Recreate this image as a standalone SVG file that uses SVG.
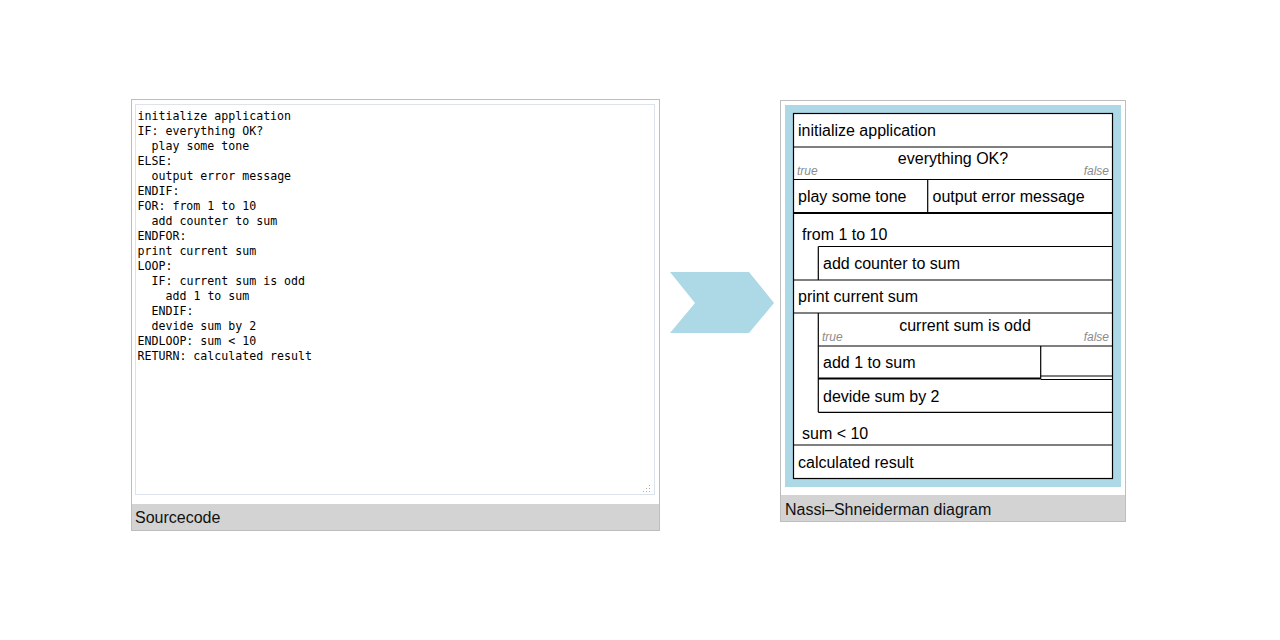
<svg xmlns="http://www.w3.org/2000/svg" width="1280" height="640" viewBox="0 0 1280 640">
<style>
.dot{fill:none;stroke:#7a7a7a;stroke-width:1;stroke-dasharray:1,1}
.bar{fill:#d3d3d3}
.cap{font-family:"Liberation Sans",Arial,sans-serif;font-size:16px;fill:#111}
.code{font-family:"DejaVu Sans Mono","Liberation Mono",monospace;font-size:11.6px;fill:#000}
.t{font-family:"Liberation Sans",Arial,sans-serif;font-size:16px;fill:#000}
.tc{font-family:"Liberation Sans",Arial,sans-serif;font-size:16px;fill:#000;text-anchor:middle}
.lbl{font-family:"Liberation Sans",Arial,sans-serif;font-size:12px;font-style:italic;fill:#8c8c8c}
.box{fill:#fff;stroke:#000;stroke-width:1.2}
.ln{stroke:#000;stroke-width:1.2;fill:none}
.thick{stroke:#000;stroke-width:2.2;fill:none}
</style>
<rect width="1280" height="640" fill="#fff"/>
<g id="sourcecode">
<rect class="dot" x="131.5" y="99.5" width="528" height="431"/>
<rect x="135.5" y="104.5" width="519" height="390" fill="#fff" stroke="#dde3ea" stroke-width="1"/>
<g fill="#b0b0b0">
<rect x="649" y="485" width="1" height="1"/><rect x="649" y="488" width="1" height="1"/><rect x="646" y="488" width="1" height="1"/>
<rect x="649" y="491" width="1" height="1"/><rect x="646" y="491" width="1" height="1"/><rect x="643" y="491" width="1" height="1"/>
</g>
<rect class="bar" x="132" y="504" width="527" height="26"/>
<text class="cap" x="135" y="523">Sourcecode</text>
<text class="code" x="137.5" y="120">initialize application</text>
<text class="code" x="137.5" y="135">IF: everything OK?</text>
<text class="code" x="151.5" y="150">play some tone</text>
<text class="code" x="137.5" y="165">ELSE:</text>
<text class="code" x="151.5" y="180">output error message</text>
<text class="code" x="137.5" y="195">ENDIF:</text>
<text class="code" x="137.5" y="210">FOR: from 1 to 10</text>
<text class="code" x="151.5" y="225">add counter to sum</text>
<text class="code" x="137.5" y="240">ENDFOR:</text>
<text class="code" x="137.5" y="255">print current sum</text>
<text class="code" x="137.5" y="270">LOOP:</text>
<text class="code" x="151.5" y="285">IF: current sum is odd</text>
<text class="code" x="165.5" y="300">add 1 to sum</text>
<text class="code" x="151.5" y="315">ENDIF:</text>
<text class="code" x="151.5" y="330">devide sum by 2</text>
<text class="code" x="137.5" y="345">ENDLOOP: sum &lt; 10</text>
<text class="code" x="137.5" y="360">RETURN: calculated result</text>
</g>
<g id="connectors">
<polygon points="670,272 749,272 774,303 749,333 670,333 695,303" fill="#add8e6"/>
</g>
<g id="nassi-shneiderman">
<rect class="dot" x="780.5" y="100.5" width="345" height="421"/>
<rect x="785" y="105" width="336" height="382" fill="#add8e6"/>
<rect class="bar" x="781" y="495" width="344" height="26"/>
<text class="cap" x="785" y="515">Nassi–Shneiderman diagram</text>
<rect class="box" x="793.5" y="113.5" width="319" height="365"/>
</g>
<g id="n-init">
<line class="ln" x1="793.5" y1="147" x2="1112.5" y2="147"/>
<text class="t" x="798" y="135.5">initialize application</text>
</g>
<g id="n-if1">
<text class="tc" x="953" y="164">everything OK?</text>
<text class="lbl" x="797" y="175">true</text>
<text class="lbl" x="1109" y="175" text-anchor="end">false</text>
<line class="ln" x1="793.5" y1="179.5" x2="1112.5" y2="179.5"/>
<line class="ln" x1="927.7" y1="179.5" x2="927.7" y2="213"/>
<text class="t" x="798" y="202">play some tone</text>
<text class="t" x="932.5" y="202">output error message</text>
<line class="thick" x1="793.5" y1="213" x2="1112.5" y2="213"/>
</g>
<g id="n-for">
<text class="t" x="802" y="239.5">from 1 to 10</text>
<line class="ln" x1="818.3" y1="246.5" x2="1112.5" y2="246.5"/>
<line class="ln" x1="818.3" y1="246.5" x2="818.3" y2="280"/>
<text class="t" x="823" y="268.5">add counter to sum</text>
<line class="ln" x1="793.5" y1="280" x2="1112.5" y2="280"/>
</g>
<g id="n-print">
<text class="t" x="798" y="302">print current sum</text>
<line class="ln" x1="793.5" y1="313" x2="1112.5" y2="313"/>
</g>
<g id="n-loop">
<line class="ln" x1="818.3" y1="313" x2="818.3" y2="412.3"/>
<text class="tc" x="965" y="331">current sum is odd</text>
<text class="lbl" x="822" y="341">true</text>
<text class="lbl" x="1109" y="341" text-anchor="end">false</text>
<line class="ln" x1="818.3" y1="346" x2="1112.5" y2="346"/>
<line class="ln" x1="1040.7" y1="346" x2="1040.7" y2="379"/>
<text class="t" x="823" y="368">add 1 to sum</text>
<line class="thick" x1="818.3" y1="378.5" x2="1040.7" y2="378.5"/>
<line class="ln" x1="1040.7" y1="376" x2="1112.5" y2="376"/>
<line class="ln" x1="1040.7" y1="379.5" x2="1112.5" y2="379.5"/>
<text class="t" x="823" y="402">devide sum by 2</text>
<line class="ln" x1="818.3" y1="412.3" x2="1112.5" y2="412.3"/>
<text class="t" x="802" y="438.5">sum &lt; 10</text>
<line class="ln" x1="793.5" y1="445" x2="1112.5" y2="445"/>
</g>
<g id="n-return">
<text class="t" x="798" y="467.5">calculated result</text>
</g>
</svg>
